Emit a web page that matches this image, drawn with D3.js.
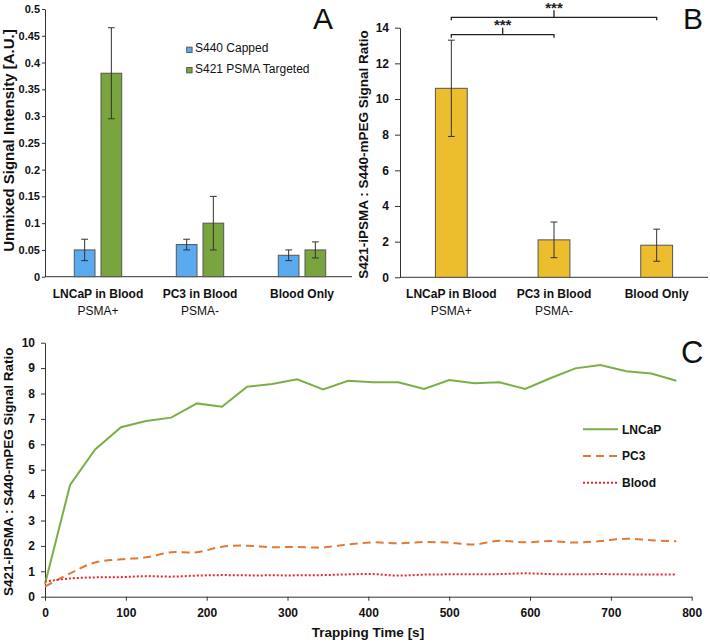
<!DOCTYPE html>
<html><head><meta charset="utf-8">
<script src="https://cdn.jsdelivr.net/npm/d3@7"></script>
<style>
body{margin:0;background:#fff;}
svg{display:block;font-family:"Liberation Sans",Arial,sans-serif;}
</style></head>
<body><svg id="c" width="710" height="642"></svg>
<script>
// ---------- data ----------
const categories = ["LNCaP in Blood", "PC3 in Blood", "Blood Only"];
const subLabels = ["PSMA+", "PSMA-", ""];
const seriesA = ["S440 Capped", "S421 PSMA Targeted"];
const cappedMean = [0.05, 0.06, 0.04];
const cappedErr = [0.02, 0.01, 0.01];
const targetedMean = [0.38, 0.10, 0.05];
const targetedErr = [0.085, 0.05, 0.015];
const ticksA = [0, 0.05, 0.1, 0.15, 0.2, 0.25, 0.3, 0.35, 0.4, 0.45, 0.5];

const ratioMean = [10.6, 2.1, 1.8];
const ratioErr = [2.7, 1.0, 0.9];
const ticksB = [0, 2, 4, 6, 8, 10, 12, 14];
const sigPairs = [[0, 1, "***"], [0, 2, "***"]];

const seriesC = ["LNCaP", "PC3", "Blood"];
const timeS = [0, 31, 62, 94, 125, 156, 188, 219, 250, 281, 312, 344, 375, 406, 437, 469, 500, 531, 562, 594, 625, 656, 687, 719, 750, 781];
const lncap = [0.5, 4.4, 5.8, 6.67, 6.92, 7.05, 7.61, 7.48, 8.27, 8.37, 8.56, 8.16, 8.5, 8.44, 8.44, 8.18, 8.53, 8.4, 8.44, 8.18, 8.6, 8.99, 9.12, 8.88, 8.79, 8.5];
const pc3 = [0.4, 0.92, 1.35, 1.47, 1.55, 1.75, 1.75, 1.97, 2.01, 1.95, 1.96, 1.94, 2.06, 2.14, 2.1, 2.15, 2.13, 2.06, 2.2, 2.14, 2.19, 2.13, 2.19, 2.28, 2.22, 2.18];
const blood = [0.6, 0.72, 0.76, 0.77, 0.81, 0.79, 0.83, 0.85, 0.84, 0.84, 0.84, 0.85, 0.88, 0.89, 0.83, 0.87, 0.88, 0.88, 0.89, 0.92, 0.89, 0.88, 0.89, 0.88, 0.87, 0.87];
const ticksCy = [0, 1, 2, 3, 4, 5, 6, 7, 8, 9, 10];
const ticksCx = [0, 100, 200, 300, 400, 500, 600, 700, 800];

// ---------- style ----------
const BLUE = "#5aaaf0", GREEN = "#7aa43e", GOLD = "#ecbd2d";
const LGREEN = "#7aaf45", ORANGE = "#e07a36", RED = "#e8272b";
const AX = "#333";

const svg = d3.select("#c");

function styleAxis(g, fs) {
  g.selectAll(".domain").attr("stroke", AX);
  g.selectAll(".tick line").attr("stroke", AX);
  g.selectAll(".tick text").attr("fill", "#111").attr("font-size", fs).attr("font-weight", "bold")
    .attr("font-family", "Liberation Sans, Arial, sans-serif");
}

function errBar(g, x, yTop, yBot) {
  g.append("line").attr("x1", x).attr("x2", x).attr("y1", yTop).attr("y2", yBot).attr("stroke", "#333").attr("stroke-width", 1);
  [yTop, yBot].forEach(y => g.append("line").attr("x1", x - 3.4).attr("x2", x + 3.4).attr("y1", y).attr("y2", y).attr("stroke", "#333").attr("stroke-width", 1));
}

function catLabels(g, x, y0) {
  categories.forEach((c, i) => {
    g.append("text").attr("x", x(c) + x.bandwidth() / 2).attr("y", y0).attr("text-anchor", "middle")
      .attr("font-size", 12).attr("font-weight", "bold").attr("fill", "#111").text(c);
    if (subLabels[i]) g.append("text").attr("x", x(c) + x.bandwidth() / 2).attr("y", y0 + 17.5).attr("text-anchor", "middle")
      .attr("font-size", 12).attr("fill", "#111").text(subLabels[i]);
  });
}

// ---------- Panel A ----------
{
  const g = svg.append("g");
  const y = d3.scaleLinear().domain([0, 0.5]).range([276.7, 9]);
  const x = d3.scaleBand().domain(categories).range([47, 353]).paddingInner(0).paddingOuter(0);
  const xs = d3.scaleBand().domain(seriesA).range([-23.7, 23.7]).paddingInner(0.225);
  const ya = g.append("g").attr("transform", "translate(45,0)")
    .call(d3.axisLeft(y).tickValues(ticksA).tickFormat(d => String(d)).tickSizeInner(3).tickSizeOuter(0).tickPadding(2));
  styleAxis(ya, 11);
  g.append("line").attr("x1", 45).attr("x2", 352).attr("y1", y(0)).attr("y2", y(0)).attr("stroke", AX);
  const means = [cappedMean, targetedMean], errs = [cappedErr, targetedErr], cols = [BLUE, GREEN];
  seriesA.forEach((s, si) => {
    categories.forEach((c, i) => {
      const cx = x(c) + x.bandwidth() / 2 + xs(s);
      g.append("rect").attr("x", cx).attr("width", xs.bandwidth()).attr("y", y(means[si][i]))
        .attr("height", y(0) - y(means[si][i])).attr("fill", cols[si]).attr("stroke", "#555").attr("stroke-width", 1);
    });
  });
  seriesA.forEach((s, si) => {
    categories.forEach((c, i) => {
      const cx = x(c) + x.bandwidth() / 2 + xs(s) + xs.bandwidth() / 2;
      errBar(g, cx, y(means[si][i] + errs[si][i]), y(means[si][i] - errs[si][i]));
    });
  });
  catLabels(g, x, 297.7);
  // legend
  seriesA.forEach((s, si) => {
    const ly = 52.3 + si * 20.4;
    g.append("rect").attr("x", 186.7).attr("y", ly - 5.2).attr("width", 5.4).attr("height", 5.4)
      .attr("fill", cols[si]).attr("stroke", "#444").attr("stroke-width", 0.8);
    g.append("text").attr("x", 195).attr("y", ly).attr("font-size", 12).attr("fill", "#111").text(s);
  });
  g.append("text").attr("transform", "translate(14,140.5) rotate(-90)").attr("text-anchor", "middle")
    .attr("font-size", 15).attr("font-weight", "bold").attr("fill", "#111").text("Unmixed Signal Intensity [A.U.]");
  g.append("text").attr("x", 323).attr("y", 29.3).attr("text-anchor", "middle").attr("font-size", 30).attr("fill", "#111").text("A");
}

// ---------- Panel B ----------
{
  const g = svg.append("g");
  const y = d3.scaleLinear().domain([0, 14]).range([277.3, 27.7]);
  const x = d3.scaleBand().domain(categories).range([400, 708]).paddingInner(0.69).paddingOuter(0.345);
  const ya = g.append("g").attr("transform", "translate(400,0)")
    .call(d3.axisLeft(y).tickValues(ticksB).tickSizeInner(5).tickSizeOuter(0).tickPadding(6));
  styleAxis(ya, 12);
  g.append("line").attr("x1", 400).attr("x2", 708).attr("y1", y(0)).attr("y2", y(0)).attr("stroke", AX);
  categories.forEach((c, i) => {
    g.append("rect").attr("x", x(c)).attr("width", x.bandwidth()).attr("y", y(ratioMean[i]))
      .attr("height", y(0) - y(ratioMean[i])).attr("fill", GOLD).attr("stroke", "#555").attr("stroke-width", 1);
  });
  categories.forEach((c, i) => {
    errBar(g, x(c) + x.bandwidth() / 2, y(ratioMean[i] + ratioErr[i]), y(ratioMean[i] - ratioErr[i]));
  });
  catLabels(g, x, 297.7);
  // significance brackets
  const bracketY = [34.7, 17.3];
  sigPairs.forEach((p, k) => {
    const x1 = x(categories[p[0]]) + x.bandwidth() / 2, x2 = x(categories[p[1]]) + x.bandwidth() / 2;
    const by = bracketY[k], mx = (x1 + x2) / 2;
    g.append("path").attr("d", `M${x1},${by + 3}V${by}H${x2}V${by + 3}M${mx},${by}V${by - 7}`)
      .attr("fill", "none").attr("stroke", "#222").attr("stroke-width", 1.3);
    g.append("text").attr("x", mx).attr("y", by - 4.5).attr("text-anchor", "middle")
      .attr("font-size", 15).attr("font-weight", "bold").attr("fill", "#222").text(p[2]);
  });
  g.append("text").attr("transform", "translate(368,154.5) rotate(-90)").attr("text-anchor", "middle")
    .attr("font-size", 13.5).attr("font-weight", "bold").attr("fill", "#111").text("S421-iPSMA : S440-mPEG Signal Ratio");
  g.append("text").attr("x", 683).attr("y", 28.5).attr("font-size", 30).attr("fill", "#111").text("B");
}

// ---------- Panel C ----------
{
  const g = svg.append("g");
  const y = d3.scaleLinear().domain([0, 10]).range([596.7, 342.7]);
  const x = d3.scaleLinear().domain([0, 800]).range([45, 691.7]);
  const ya = g.append("g").attr("transform", "translate(45,0)")
    .call(d3.axisLeft(y).tickValues(ticksCy).tickSizeInner(4).tickSizeOuter(0).tickPadding(6));
  styleAxis(ya, 12);
  const xa = g.append("g").attr("transform", `translate(0,${y(0)})`)
    .call(d3.axisBottom(x).tickValues(ticksCx).tickSizeInner(4).tickSizeOuter(0).tickPadding(8));
  styleAxis(xa, 12);
  const vals = [lncap, pc3, blood];
  const cols = [LGREEN, ORANGE, RED];
  const dashes = [null, "8,5", "2,2"];
  const curves = [d3.curveLinear, d3.curveCatmullRom, d3.curveCatmullRom];
  seriesC.forEach((s, si) => {
    const line = d3.line().x((d, i) => x(timeS[i])).y(d => y(d)).curve(curves[si]);
    g.append("path").attr("d", line(vals[si])).attr("fill", "none").attr("stroke", cols[si])
      .attr("stroke-width", 2).attr("stroke-dasharray", dashes[si]);
  });
  seriesC.forEach((s, si) => {
    const ly = 429.3 + si * 26.7;
    g.append("line").attr("x1", 583).attr("x2", 618).attr("y1", ly).attr("y2", ly).attr("stroke", cols[si])
      .attr("stroke-width", 2).attr("stroke-dasharray", dashes[si]);
    g.append("text").attr("x", 622).attr("y", ly + 4.3).attr("font-size", 12).attr("font-weight", "bold").attr("fill", "#111").text(s);
  });
  g.append("text").attr("transform", "translate(13,471.7) rotate(-90)").attr("text-anchor", "middle")
    .attr("font-size", 13.5).attr("font-weight", "bold").attr("fill", "#111").text("S421-iPSMA : S440-mPEG Signal Ratio");
  g.append("text").attr("x", 368).attr("y", 636.5).attr("text-anchor", "middle")
    .attr("font-size", 13.5).attr("font-weight", "bold").attr("fill", "#111").text("Trapping Time [s]");
  g.append("text").attr("x", 681).attr("y", 363).attr("font-size", 31).attr("fill", "#111").text("C");
}
</script></body></html>
